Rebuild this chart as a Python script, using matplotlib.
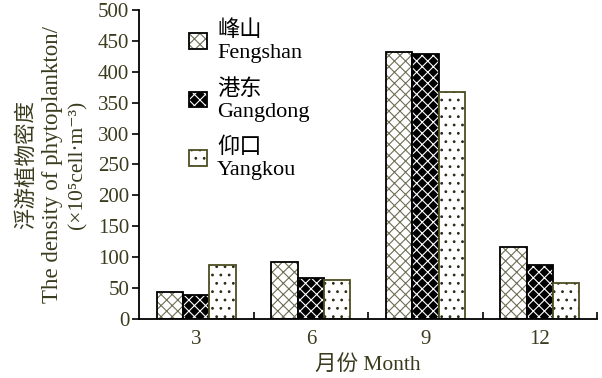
import matplotlib.pyplot as plt
import numpy as np
from matplotlib.patches import Patch
from matplotlib.legend_handler import HandlerTuple

plt.rcParams['font.family'] = ['Liberation Serif', 'Noto Sans CJK SC', 'DejaVu Sans']
plt.rcParams['hatch.linewidth'] = 0.8

months = ['3', '6', '9', '12']
fengshan = [43, 92, 432, 116]
gangdong = [39, 67, 429, 88]
yangkou = [88, 63, 367, 59]
site_labels = ['峰山\nFengshan', '港东\nGangdong', '仰口\nYangkou']

txt = '#3b3b1e'
olive = '#4d4d22'

# fill colour, hatch colour, hatch, outline colour
styles = [
    ('white', '#6e6e55', 'xxx', 'black'),
    ('black', 'white', 'xxx', 'black'),
    ('white', '#2a2a18', '..', olive),
]

fig = plt.figure(figsize=(6.02, 3.78), dpi=100)
ax = fig.add_axes([0.231, 0.156, 0.761, 0.818])

x = np.arange(len(months))
w = 0.23
handles = []
for i, (vals, st) in enumerate(zip([fengshan, gangdong, yangkou], styles)):
    fc, hc, hatch, ec = st
    pos = x + (i - 1) * w
    ax.bar(pos, vals, w, color=fc, edgecolor=hc, hatch=hatch, linewidth=0)
    ax.bar(pos, vals, w, fill=False, edgecolor=ec, linewidth=1.3)
    handles.append((Patch(facecolor=fc, edgecolor=hc, hatch=hatch, linewidth=0),
                    Patch(fill=False, edgecolor=ec, linewidth=1.3)))

ax.set_xlim(-0.5, 3.5)
ax.set_ylim(0, 500)
ax.set_yticks(range(0, 501, 50))
ax.set_xticks(x)
ax.set_xticklabels(months)
ax.set_xticks([0.5, 1.5, 2.5, 3.5], minor=True)
ax.tick_params(axis='x', which='major', length=0, pad=8, labelsize=15, labelcolor=txt)
ax.tick_params(axis='x', which='minor', direction='in', length=5, width=1.2)
ax.tick_params(axis='y', direction='out', length=5, width=1.2, labelsize=15, labelcolor=txt, pad=2)

for s in ['top', 'right']:
    ax.spines[s].set_visible(False)
for s in ['left', 'bottom']:
    ax.spines[s].set_linewidth(1.3)

ax.set_xlabel('月份 Month', fontsize=15.5, color=txt, labelpad=4)

fig.text(0.045, 0.565, '浮游植物密度', rotation=90, ha='center', va='center', fontsize=15.5, color=txt)
fig.text(0.088, 0.565, 'The density of phytoplankton/', rotation=90, ha='center', va='center',
         fontsize=16.5, color=txt)
fig.text(0.129, 0.565, '(×10⁵cell·m⁻³)', rotation=90, ha='center', va='center', fontsize=15.5, color=txt)

leg = ax.legend(handles, site_labels, handler_map={tuple: HandlerTuple(ndivide=1, pad=0)},
                loc='upper left', bbox_to_anchor=(0.109, 0.965), frameon=False, fontsize=16,
                handlelength=0.82, handleheight=0.68, handletextpad=0.45, labelspacing=0.72,
                borderpad=0, borderaxespad=0)
for t in leg.get_texts():
    t.set_color('black')

fig.savefig('out.png', dpi=100)
